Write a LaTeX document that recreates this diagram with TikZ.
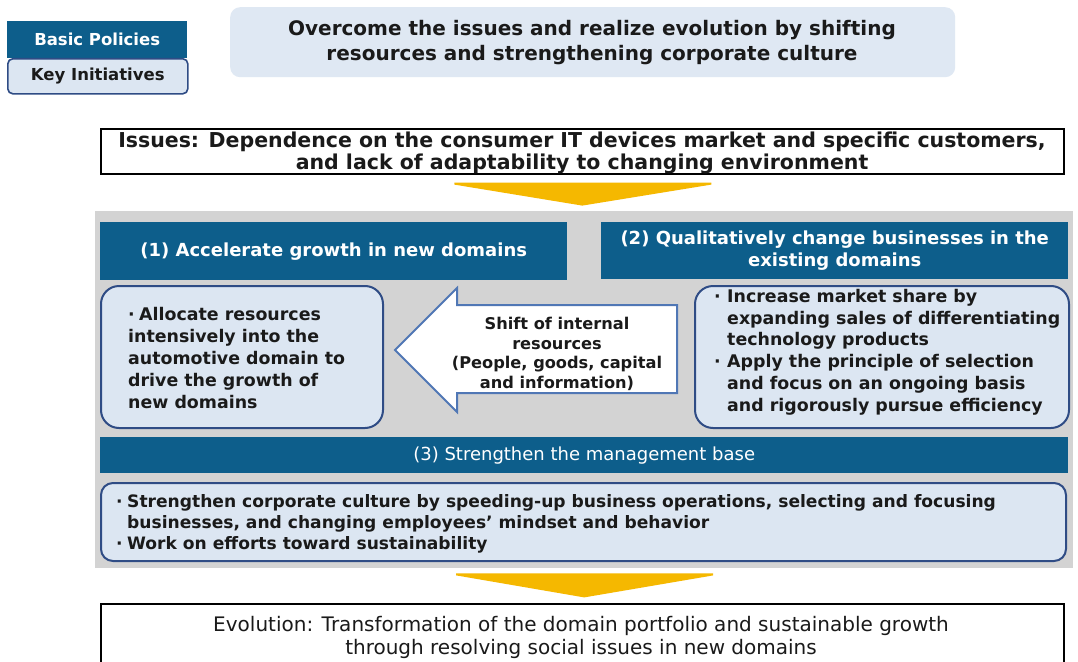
\documentclass[tikz,border=0pt]{standalone}
\usepackage{fontspec}
\setmainfont{DejaVu Sans}
\usetikzlibrary{calc}

\definecolor{hdrblue}{HTML}{0D5E8B}
\definecolor{paleblue}{HTML}{DCE6F2}
\definecolor{bannerblue}{HTML}{DFE8F3}
\definecolor{navyline}{HTML}{2F4C85}
\definecolor{arrowline}{HTML}{5077B5}
\definecolor{panelgray}{HTML}{D3D3D3}
\definecolor{gold}{HTML}{F5B800}
\definecolor{inktext}{HTML}{1A1A1A}

\newcommand{\fsz}[2]{\fontsize{#1}{#2}\selectfont}
\newcommand{\bl}[1]{\makebox[#1pt][l]{·}}

\tikzset{
  hdr/.style={fill=hdrblue, text=white, inner sep=0pt, anchor=north west,
    font=\bfseries\fsz{18}{22}, align=center},
  initbox/.style={fill=paleblue, draw=navyline, line width=2pt, inner sep=0pt,
    anchor=north west, rounded corners=18pt},
  plainbox/.style={fill=white, draw=black, line width=1.6pt, inner sep=0pt,
    anchor=north west},
  chevron/.style={fill=gold},
  bodytext/.style={text=inktext, align=left, inner sep=0pt, anchor=west,
    font=\bfseries\fsz{17.4}{21.8}}
}

\begin{document}
\begin{tikzpicture}[x=1pt, y=-1pt]
\useasboundingbox (0,0) rectangle (1078,661);
\fill[white] (0,0) rectangle (1078,661);

% legend
\node[fill=hdrblue, text=white, inner sep=0pt, anchor=north west,
  minimum width=180, minimum height=37, font=\bfseries\fsz{16.5}{19}]
  (legA) at (7,21) {Basic Policies};
\node[fill=paleblue, draw=navyline, line width=1.6pt, rounded corners=5pt,
  inner sep=0pt, anchor=north west, minimum width=180, minimum height=35,
  text=inktext, font=\bfseries\fsz{16.5}{19}]
  (legB) at (7,58) {Key Initiatives};

% banner
\node[fill=bannerblue, rounded corners=10pt, inner sep=0pt, anchor=north west,
  minimum width=725, minimum height=70] (banner) at (230,7) {};
\node[align=center, text=inktext, inner sep=0pt, font=\bfseries\fsz{20}{25}]
  (bannertext) at (592,43) {Overcome the issues and realize evolution by shifting\\
  resources and strengthening corporate culture};

% issues
\node[plainbox, minimum width=963, minimum height=45] (issues) at (100,128) {};
\node[align=center, text=inktext, inner sep=0pt, font=\bfseries\fsz{20.5}{22.5}]
  (issuestext) at (582,153) {Issues: Dependence on the consumer IT devices market and specific customers,\\
  and lack of adaptability to changing environment};

\fill[chevron] ($(issues.south)+(-128,8)$) -- ($(issues.south)+(129,8)$)
  -- ($(issues.south)+(129,10)$) -- ($(issues.south)+(0,31)$)
  -- ($(issues.south)+(-128,10)$) -- cycle;

% grey panel
\node[fill=panelgray, inner sep=0pt, anchor=north west, minimum width=978,
  minimum height=357] (panel) at (95,211) {};

% headings
\node[hdr, minimum width=467, minimum height=58] (h1) at (100,222)
  {(1) Accelerate growth in new domains};
\node[hdr, minimum width=467, minimum height=57] (h2) at (601,222)
  {(2) Qualitatively change businesses in the\\ existing domains};

% initiative boxes
\node[initbox, minimum width=282, minimum height=142] (b1) at (100,285) {};
\node[bodytext] (t1) at (128,358)
  {\bl{11}Allocate resources\\ intensively into the\\ automotive domain to\\
   drive the growth of\\ new domains};

\node[initbox, minimum width=374, minimum height=142] (b2) at (694,285) {};
\node[bodytext] (t2) at (714,352)
  {\bl{13}Increase market share by\\ \hspace*{13pt}expanding sales of differentiating\\
   \hspace*{13pt}technology products\\ \bl{13}Apply the principle of selection\\
   \hspace*{13pt}and focus on an ongoing basis\\ \hspace*{13pt}and rigorously pursue efficiency};

% shift arrow
\coordinate (tip) at (395,350);
\draw[fill=white, draw=arrowline, line width=2pt, line join=miter]
  (tip) -- (457,288) -- (457,305) -- (677,305) -- (677,393) -- (457,393)
  -- (457,412) -- cycle;
\node[text=inktext, align=center, inner sep=0pt, font=\bfseries\fsz{16.2}{19.7}]
  (shift) at (557,354) {Shift of internal\\ resources\\ (People, goods, capital\\ and information)};

% management base
\node[hdr, minimum width=968, minimum height=36, font=\fsz{18}{20}]
  (h3) at (100,437) {(3) Strengthen the management base};
\node[initbox, rounded corners=12pt, minimum width=965, minimum height=78] (b3) at (100,482) {};
\node[bodytext, font=\bfseries\fsz{17.1}{21}] (t3) at (116,524)
  {\bl{11}Strengthen corporate culture by speeding-up business operations, selecting and focusing\\
   \hspace*{11pt}businesses, and changing employees’ mindset and behavior\\
   \bl{11}Work on efforts toward sustainability};

\fill[chevron] ($(panel.south)+(-128,5)$) -- ($(panel.south)+(129,5)$)
  -- ($(panel.south)+(129,7)$) -- ($(panel.south)+(0,29)$)
  -- ($(panel.south)+(-128,7)$) -- cycle;

% evolution
\node[plainbox, minimum width=963, minimum height=62] (evol) at (100,603) {};
\node[text=inktext, align=center, inner sep=0pt, font=\fsz{20}{23}]
  (evtext) at (581,637) {Evolution: Transformation of the domain portfolio and sustainable growth\\
  through resolving social issues in new domains};
\end{tikzpicture}
\end{document}
